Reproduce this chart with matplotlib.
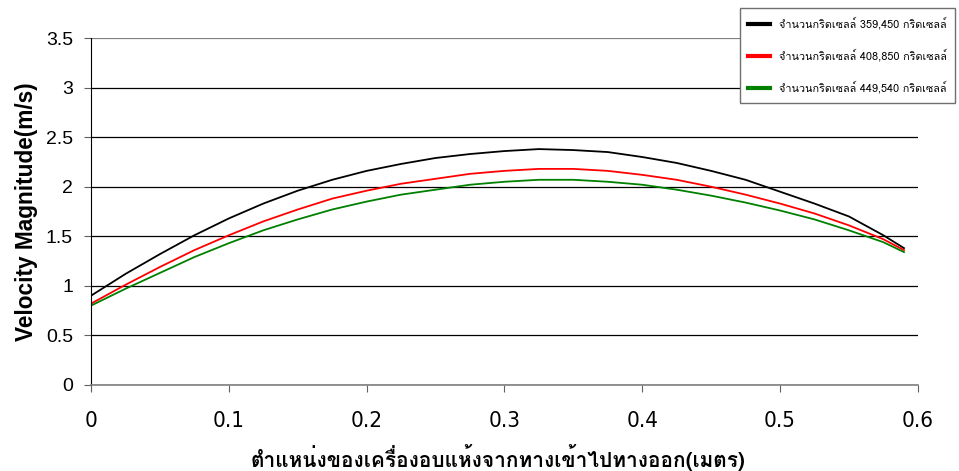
import numpy as np
import matplotlib
matplotlib.use("Agg")
import matplotlib.pyplot as plt
from matplotlib import font_manager
from matplotlib.ft2font import FT2Font

# position along the dryer (m) and velocity magnitude (m/s) for three grid sizes
pos = [0, 0.025, 0.05, 0.075, 0.1, 0.125, 0.15, 0.175, 0.2, 0.225, 0.25, 0.275,
       0.3, 0.325, 0.35, 0.375, 0.4, 0.425, 0.45, 0.475, 0.5, 0.525, 0.55, 0.575, 0.59]
vel_359450 = [0.90, 1.12, 1.32, 1.51, 1.68, 1.83, 1.96, 2.07, 2.16, 2.23, 2.29, 2.33,
              2.36, 2.38, 2.37, 2.35, 2.30, 2.24, 2.16, 2.07, 1.95, 1.83, 1.70, 1.51, 1.38]
vel_408850 = [0.82, 1.01, 1.19, 1.36, 1.51, 1.65, 1.77, 1.88, 1.96, 2.03, 2.08, 2.13,
              2.16, 2.18, 2.18, 2.16, 2.12, 2.07, 2.00, 1.92, 1.83, 1.73, 1.61, 1.47, 1.36]
vel_449540 = [0.80, 0.97, 1.13, 1.29, 1.43, 1.56, 1.67, 1.77, 1.85, 1.92, 1.97, 2.02,
              2.05, 2.07, 2.07, 2.05, 2.02, 1.97, 1.91, 1.84, 1.76, 1.67, 1.56, 1.44, 1.34]

labels = ["จำนวนกริดเซลล์ 359,450 กริดเซลล์",
          "จำนวนกริดเซลล์ 408,850 กริดเซลล์",
          "จำนวนกริดเซลล์ 449,540 กริดเซลล์"]
colors = ["black", "red", "green"]
xticklabels = ["0", "0.1", "0.2", "0.3", "0.4", "0.5", "0.6"]
yticklabels = ["0", "0.5", "1", "1.5", "2", "2.5", "3", "3.5"]
xlabel = "ตำแหน่งของเครื่องอบแห้งจากทางเข้าไปทางออก(เมตร)"
ylabel = "Velocity Magnitude(m/s)"


def find_thai_font():
    # look for any installed font that has Thai glyphs
    for f in font_manager.fontManager.ttflist:
        try:
            if 0x0E01 in FT2Font(f.fname).get_charmap():
                return f.name
        except Exception:
            pass
    return "DejaVu Sans"


def find_narrow_font():
    # a condensed sans for the x tick labels, if one is installed
    for f in font_manager.fontManager.ttflist:
        n = f.fname.lower()
        if ("narrow" in n or "condensed" in n) and "bold" not in n and "oblique" not in n \
                and "italic" not in n and "mono" not in n and "serif" not in n:
            return font_manager.FontProperties(fname=f.fname)
    return font_manager.FontProperties(family="Liberation Sans")


thai = find_thai_font()
narrow = find_narrow_font()
plt.rcParams['font.family'] = ['Liberation Sans', thai, 'DejaVu Sans']

fig = plt.figure(figsize=(9.59, 4.71), dpi=100)
ax = fig.add_axes([0.095, 0.183, 0.862, 0.736])

for v, c, lab in zip([vel_359450, vel_408850, vel_449540], colors, labels):
    ax.plot(pos, v, color=c, lw=1.3, label=lab)

ax.set_xlim(0, 0.6)
ax.set_ylim(0, 3.5)
ax.set_xticks(np.arange(0, 0.61, 0.1))
ax.set_xticklabels(xticklabels)
ax.set_yticks(np.arange(0, 3.51, 0.5))
ax.set_yticklabels(yticklabels)
ax.yaxis.grid(True, color="black", lw=0.9)
ax.get_ygridlines()[-1].set_color("#808080")
ax.set_axisbelow(True)
for s in ["top", "right"]:
    ax.spines[s].set_visible(False)
ax.spines["left"].set_color("black")
ax.spines["bottom"].set_color("#808080")
ax.spines["bottom"].set_linewidth(1.2)
ax.tick_params(axis="both", length=5, width=0.8, colors="#606060", labelcolor="black")
ax.tick_params(axis="x", pad=14)
ax.tick_params(axis="y", pad=8, labelsize=14)
for t in ax.get_xticklabels():
    t.set_fontproperties(narrow)
    t.set_fontsize(16)

ax.set_ylabel(ylabel, fontsize=16.3, fontweight="bold", labelpad=6)
ax.set_xlabel(xlabel, fontsize=15, fontweight="bold", labelpad=9,
              family=[thai, 'DejaVu Sans'])
ax.xaxis.label.set_x(0.492)

leg = fig.legend(loc="upper right", bbox_to_anchor=(0.996, 0.983), borderaxespad=0,
                 fancybox=False, prop={"family": [thai, 'DejaVu Sans'], "size": 7.8},
                 handlelength=2.0, handletextpad=0.8, labelspacing=1.8, borderpad=0.8,
                 edgecolor="#707070", framealpha=1)
for h in leg.get_lines():
    h.set_linewidth(3)
leg.get_frame().set_linewidth(1)

fig.savefig("out.png", dpi=100)
